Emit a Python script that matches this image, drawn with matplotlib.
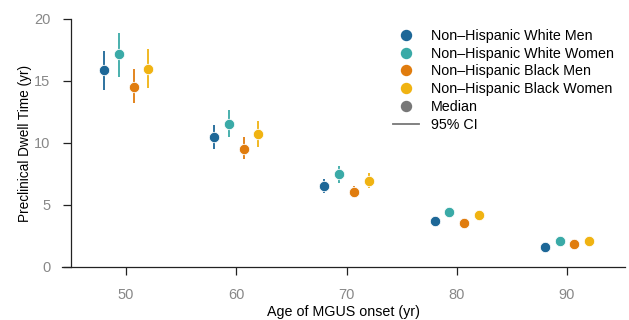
import matplotlib
matplotlib.use("Agg")
import matplotlib.pyplot as plt
from matplotlib.lines import Line2D
import numpy as np

ages = [50, 60, 70, 80, 90]
groups = ["Non–Hispanic White Men", "Non–Hispanic White Women",
          "Non–Hispanic Black Men", "Non–Hispanic Black Women"]
offsets = [-2.0, -0.67, 0.67, 2.0]
colors = ["#1d6797", "#3aaaa7", "#e07c0e", "#f0b312"]

wm_med = [15.86, 10.46, 6.56, 3.68, 1.64]
wm_lo = [14.30, 9.49, 5.99, 3.50, 1.50]
wm_hi = [17.40, 11.45, 7.07, 3.86, 1.78]

ww_med = [17.15, 11.56, 7.47, 4.44, 2.12]
ww_lo = [15.35, 10.45, 6.80, 4.24, 1.97]
ww_hi = [18.90, 12.70, 8.15, 4.64, 2.27]

bm_med = [14.54, 9.54, 6.02, 3.55, 1.83]
bm_lo = [13.20, 8.71, 5.62, 3.38, 1.70]
bm_hi = [16.00, 10.48, 6.53, 3.72, 1.96]

bw_med = [15.97, 10.70, 6.94, 4.17, 2.12]
bw_lo = [14.40, 9.68, 6.35, 3.97, 1.98]
bw_hi = [17.60, 11.75, 7.56, 4.37, 2.26]

meds = [wm_med, ww_med, bm_med, bw_med]
los = [wm_lo, ww_lo, bm_lo, bw_lo]
his = [wm_hi, ww_hi, bm_hi, bw_hi]

plt.rcParams['font.family'] = ['Liberation Sans', 'DejaVu Sans']

fig = plt.figure(figsize=(6.29, 3.2), dpi=100)
ax = fig.add_axes([62/629, 53/320, 563/629, 248/320])

for g in range(4):
    xs = np.array(ages) + offsets[g]
    ax.vlines(xs, los[g], his[g], color=colors[g], lw=1.3, zorder=2)
    ax.plot(xs, meds[g], 'o', ms=7.5, color=colors[g], mec='white', mew=0.6,
            zorder=3, linestyle='none')

ax.set_xlim(44.18, 95.27)
ax.set_ylim(0, 20)
ax.spines['top'].set_visible(False)
ax.spines['right'].set_visible(False)
ax.spines['left'].set_bounds(0, 20)
ax.spines['left'].set_position(('data', 45))
for s in ['left', 'bottom']:
    ax.spines[s].set_linewidth(0.9)
    ax.spines[s].set_color('#222222')
ax.set_xticks([50, 60, 70, 80, 90])
ax.set_yticks([0, 5, 10, 15, 20])
ax.tick_params(axis='both', length=6, width=0.9, color='#222222',
               labelcolor='#888888', labelsize=10.5)
ax.tick_params(axis='x', pad=9)
ax.tick_params(axis='y', pad=9)

ax.set_xlabel("Age of MGUS onset (yr)", fontsize=10.3, labelpad=2)
ax.set_ylabel("Preclinical Dwell Time (yr)", fontsize=9.8, labelpad=1)

handles = [Line2D([], [], marker='o', ls='none', color=c, ms=7.2) for c in colors]
handles.append(Line2D([], [], marker='o', ls='none', color='#777777', ms=7.2))
handles.append(Line2D([], [], color='#777777', lw=1.3))
labels = groups + ["Median", "95% CI"]
leg = fig.legend(handles, labels, loc='upper left',
                 bbox_to_anchor=(393/629, 1 - 29/320),
                 bbox_transform=fig.transFigure,
                 frameon=False, fontsize=10.3, handlelength=1.82,
                 labelspacing=0.26, handletextpad=0.84, borderaxespad=0,
                 borderpad=0)

fig.savefig("out.png", dpi=100)
